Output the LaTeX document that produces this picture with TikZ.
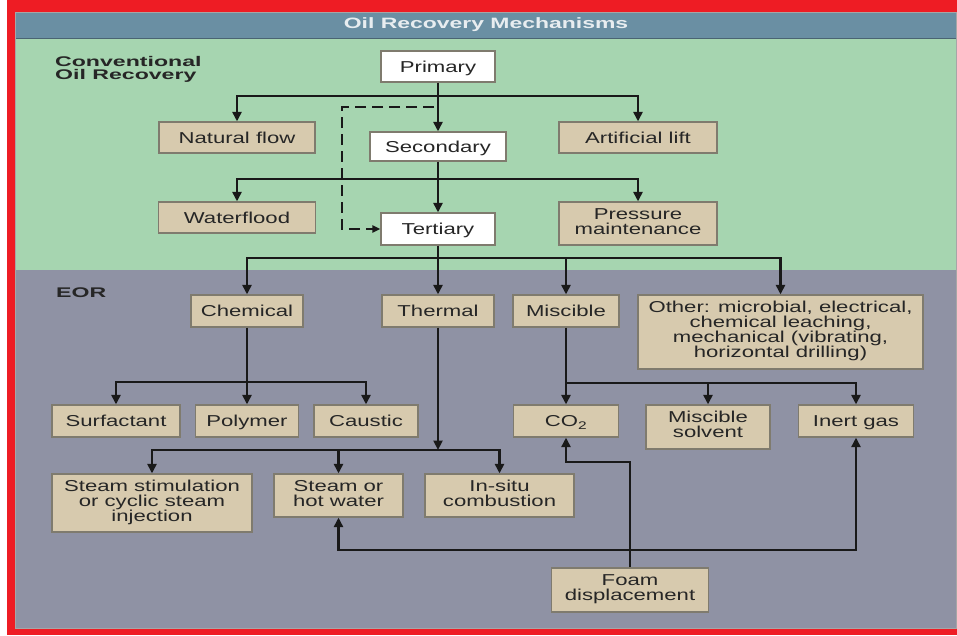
\documentclass[tikz,border=0pt]{standalone}
\usepackage{fontspec}
\setmainfont{Liberation Sans}
\newfontfamily\boxfont[FakeStretch=1.4]{Liberation Sans}
\newfontfamily\headfont[FakeStretch=1.65]{Liberation Sans}
\newfontfamily\titlefont[FakeStretch=1.53]{Liberation Sans}
\usetikzlibrary{arrows.meta}
\definecolor{redb}{HTML}{EE1C24}
\definecolor{titlebar}{HTML}{6A8FA3}
\definecolor{greenbg}{HTML}{A6D5B0}
\definecolor{graybg}{HTML}{8F92A4}
\definecolor{tanfill}{HTML}{D7CAAE}
\definecolor{boxline}{HTML}{7F7B6E}
\definecolor{titletext}{HTML}{E8EDF0}
\definecolor{inktext}{HTML}{262626}
\newcommand{\boxstrut}{\rule[-4.8pt]{0pt}{20.8pt}}
\tikzset{
  box/.style={draw=boxline, line width=1.2pt, fill=tanfill, inner sep=0pt, align=center,
    text=inktext, font=\boxfont\fontsize{15.8}{15}\selectfont,
    execute at begin node=\boxstrut, execute at end node=\boxstrut},
  wbox/.style={box, fill=white},
  arr/.style={line width=2.4pt, draw=black!90, -{Triangle[length=9.5pt,width=9pt]}},
  dashline/.style={line width=2pt, draw=black!90, dash pattern=on 11pt off 6pt, -{Triangle[length=8pt,width=7pt]}},
  headtext/.style={font=\headfont\bfseries\fontsize{14}{14}\selectfont, text=black!85, align=left, inner sep=0pt}
}
\begin{document}
\begin{tikzpicture}[x=1pt,y=-1pt]
\useasboundingbox (0,0) rectangle (957,635);
\fill[white] (0,0) rectangle (957,635);
\fill[redb] (7,0) rectangle (957,635);
\fill[titlebar] (15,12) rectangle (957,38);
\fill[greenbg] (15,38) rectangle (957,270);
\fill[graybg] (15,270) rectangle (957,628);
\draw[titlebar!70!black, line width=1pt] (15,38) -- (957,38);
\draw[black!35, line width=0.8pt] (15.4,12) rectangle (956.6,628);
\node[font=\titlefont\bfseries\fontsize{15}{15}\selectfont, text=titletext, inner sep=0pt] (title) at (486,25) {Oil Recovery Mechanisms};
\node[headtext, anchor=north west] (conv) at (55,56) {Conventional\\[-1pt]Oil Recovery};
\node[headtext, anchor=west] (eor) at (56,293) {EOR};

% conventional
\node[wbox, minimum width=114pt, minimum height=31pt] (prim) at (438,66.5) {Primary};
\node[box, minimum width=156pt, minimum height=31pt] (nf) at (237,137.5) {Natural flow};
\node[box, minimum width=158pt, minimum height=31pt] (al) at (638,137.5) {Artificial lift};
\node[wbox, minimum width=136pt, minimum height=29pt] (sec) at (438,146.5) {Secondary};
\node[box, minimum width=157pt, minimum height=31pt] (wf) at (237,217.5) {Waterflood};
\node[box, minimum width=158pt, minimum height=43pt] (pm) at (638,223.5) {Pressure\\maintenance};
\node[wbox, minimum width=114pt, minimum height=32pt] (tert) at (438,229) {Tertiary};

% EOR
\node[box, minimum width=112pt, minimum height=32pt] (chem) at (247,311) {Chemical};
\node[box, minimum width=112pt, minimum height=32pt] (therm) at (438,311) {Thermal};
\node[box, minimum width=106pt, minimum height=32pt] (misc) at (566,311) {Miscible};
\node[box, minimum width=285pt, minimum height=74pt] (oth) at (780.5,332) {Other: microbial, electrical,\\chemical leaching,\\mechanical (vibrating,\\horizontal drilling)};
\node[box, minimum width=128pt, minimum height=32pt] (surf) at (116,421) {Surfactant};
\node[box, minimum width=103pt, minimum height=32pt] (poly) at (247,421) {Polymer};
\node[box, minimum width=104pt, minimum height=32pt] (caus) at (366,421) {Caustic};
\node[box, minimum width=200pt, minimum height=58pt] (ss) at (152,503) {Steam stimulation\\or cyclic steam\\injection};
\node[box, minimum width=129pt, minimum height=43pt] (sh) at (338.5,495.5) {Steam or\\hot water};
\node[box, minimum width=149pt, minimum height=43pt] (ic) at (499.5,495.5) {In-situ\\combustion};
\node[box, minimum width=105pt, minimum height=32pt] (co2) at (566,421) {CO\textsubscript{2}};
\node[box, minimum width=124pt, minimum height=44pt] (msol) at (708,427) {Miscible\\solvent};
\node[box, minimum width=115pt, minimum height=32pt] (ig) at (856,421) {Inert gas};
\node[box, minimum width=157pt, minimum height=44pt] (foam) at (630,590) {Foam\\displacement};

% junctions
\coordinate (j1) at (438,96);
\coordinate (d0) at (434,107);
\coordinate (d1) at (342,107);
\coordinate (d2) at (342,229);
\coordinate (j2) at (438,179);
\coordinate (j3) at (438,258);
\coordinate (j4) at (247,382);
\coordinate (j5) at (438,450);
\coordinate (j6) at (566,383);
\coordinate (f1) at (630,462);
\coordinate (f2) at (630,550);

% connectors
\draw[arr] (prim) -- (sec);
\draw[arr] (j1) -| (nf);
\draw[arr] (j1) -| (al);
\draw[dashline] (d0) -- (d1) -- (d2) -- (tert.west);
\draw[arr] (sec) -- (tert);
\draw[arr] (j2) -| (wf);
\draw[arr] (j2) -| (pm);
\draw[arr] (tert) -- (therm);
\draw[arr] (j3) -| (chem);
\draw[arr] (j3) -| (misc);
\draw[arr] (j3) -| (oth);
\draw[arr] (chem) -- (poly);
\draw[arr] (j4) -| (surf);
\draw[arr] (j4) -| (caus);
\draw[arr] (therm) -- (j5);
\draw[arr] (j5) -| (ss);
\draw[arr] (j5) -| (sh);
\draw[arr] (j5) -| (ic);
\draw[arr] (misc) -- (co2);
\draw[arr] (j6) -| (msol);
\draw[arr] (j6) -| (ig);
\draw[arr] (foam.north) -- (f1) -| (co2);
\draw[arr] (f2) -| (sh);
\draw[arr] (f2) -| (ig);
\end{tikzpicture}
\end{document}
